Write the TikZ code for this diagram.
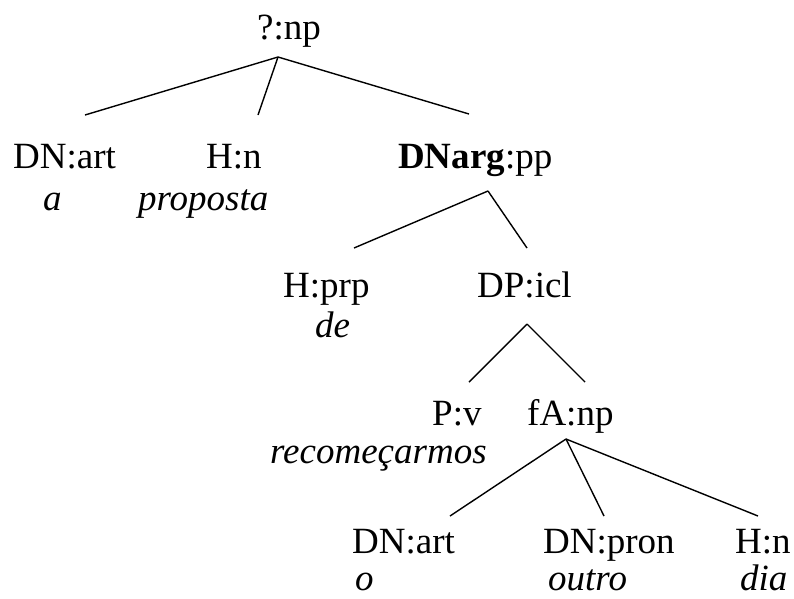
\documentclass[tikz,border=0pt]{standalone}
\usepackage{fontspec}
\setmainfont{Liberation Serif}
\begin{document}
\begin{tikzpicture}[x=1pt,y=-1pt]
		\tikzset{cat/.style = {anchor=base west, inner sep=0pt, font=\fontsize{37}{40}\selectfont},
		word/.style = {cat, font=\fontsize{37}{40}\selectfont\itshape},
		branch/.style = {line width=1.4pt}}

		\useasboundingbox (0,0) rectangle (794,598);

		\node[cat] (np) at (257,39) {?:np};
		\node[cat] (art_1) at (13,168) {DN:art};
		\node[word] (w_a) at (43,210) {a};
		\node[cat] (n_1) at (206,168) {H:n};
		\node[word] (w_proposta) at (138,210) {proposta};
		\node[cat] (pp) at (398,168) {\textbf{DNarg}:pp};
		\node[cat] (prp) at (283,297) {H:prp};
		\node[word] (w_de) at (315,337) {de};
		\node[cat] (icl) at (477,297) {DP:icl};
		\node[cat] (v) at (432,425) {P:v};
		\node[word] (w_recomecarmos) at (270,463) {recomeçarmos};
		\node[cat] (np_2) at (527,425) {fA:np};
		\node[cat] (art_2) at (352,553) {DN:art};
		\node[word] (w_o) at (355,590) {o};
		\node[cat] (pron) at (543,553) {DN:pron};
		\node[word] (w_outro) at (548,590) {outro};
		\node[cat] (n_2) at (735,553) {H:n};
		\node[word] (w_dia) at (740,590) {dia};

		\coordinate (np_b) at (278,57);
		\coordinate (art_1_t) at (85,115);
		\coordinate (n_1_t) at (258,115);
		\coordinate (pp_t) at (469,114);
		\coordinate (pp_b) at (488,191);
		\coordinate (prp_t) at (354,248);
		\coordinate (icl_t) at (527,248);
		\coordinate (icl_b) at (527,324);
		\coordinate (v_t) at (469,382);
		\coordinate (np_2_t) at (585,382);
		\coordinate (np_2_b) at (566,439);
		\coordinate (art_2_t) at (450,516);
		\coordinate (pron_t) at (604,516);
		\coordinate (n_2_t) at (758,516);



		\draw[branch] (np_b)--(art_1_t);
		\draw[branch] (np_b)--(n_1_t);
		\draw[branch] (np_b)--(pp_t);
		\draw[branch] (pp_b)--(prp_t);
		\draw[branch] (pp_b)--(icl_t);
		\draw[branch] (icl_b)--(v_t);
		\draw[branch] (icl_b)--(np_2_t);
		\draw[branch] (np_2_b)--(art_2_t);
		\draw[branch] (np_2_b)--(pron_t);
		\draw[branch] (np_2_b)--(n_2_t);

	\end{tikzpicture}
\end{document}
